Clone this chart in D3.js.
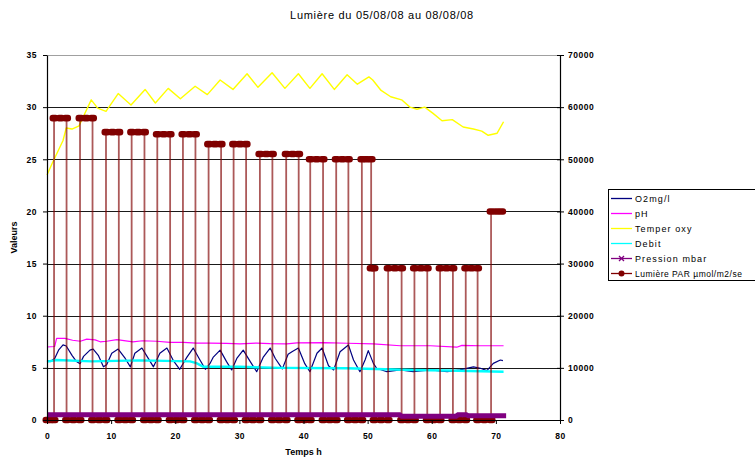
<!DOCTYPE html>
<html>
<head>
<meta charset="utf-8">
<script src="https://cdn.jsdelivr.net/npm/d3@7"></script>
<style>
  body { margin: 0; background: #fff; }
  svg { display: block; }
</style>
</head>
<body>
<div id="chart"></div>
<script>
// ---- data (time in hours) ----
const chartTitle = "Lumière du 05/08/08 au 08/08/08";
const xTicks = [0, 10, 20, 30, 40, 50, 60, 70, 80];
const leftTicks = [0, 5, 10, 15, 20, 25, 30, 35];
const rightTicks = [0, 10000, 20000, 30000, 40000, 50000, 60000, 70000];
const seriesNames = ["O2mg/l", "pH", "Temper oxy", "Debit", "Pression mbar", "Lumière PAR µmol/m2/se"];

const o2 = [
  [0, 5.7], [0.5, 5.6], [1.2, 5.9], [1.8, 6.7], [2.5, 7.2], [3.0, 7.1], [3.9, 6.2], [4.6, 5.6],
  [5.15, 5.4], [5.7, 6.1], [6.7, 6.7], [7.2, 6.8], [8.0, 6.2], [8.8, 5.1], [9.3, 5.3], [10.1, 6.4],
  [11.1, 6.8], [12.2, 5.9], [13.0, 5.1], [13.7, 6.4], [14.8, 6.9], [15.6, 6.1], [16.6, 5.1],
  [17.6, 6.4], [18.7, 6.9], [19.7, 5.7], [20.7, 4.86], [21.8, 6.0], [22.8, 6.9], [23.9, 5.7],
  [24.7, 4.86], [25.4, 5.4], [25.9, 6.0], [27.0, 6.7], [28.0, 5.6], [28.8, 4.8], [29.6, 5.9],
  [30.6, 6.7], [31.7, 5.6], [32.7, 4.63], [33.7, 6.0], [34.8, 6.9], [35.6, 5.9], [36.7, 4.9],
  [37.6, 6.3], [38.2, 6.55], [39.2, 6.9], [40.2, 5.4], [41.0, 4.63], [42.1, 6.4], [42.9, 6.9],
  [43.9, 5.2], [44.7, 4.8], [45.7, 6.55], [47.0, 7.2], [47.8, 5.75], [48.8, 4.63], [49.6, 5.75],
  [50.1, 6.65], [50.9, 5.43], [51.4, 4.96], [53.0, 4.63], [55.1, 4.8], [57.1, 4.63], [59.8, 4.8],
  [62.4, 4.63], [64.4, 4.8], [66.5, 5.1], [67.6, 4.96], [68.6, 4.73], [69.6, 5.43], [70.7, 5.75],
  [71.1, 5.7]
];

const ph = [
  [0, 7.0], [1.2, 7.05], [1.5, 7.83], [2.8, 7.83], [4.0, 7.65], [5.2, 7.55], [6.2, 7.75],
  [7.5, 7.68], [8.3, 7.5], [9.3, 7.55], [10.9, 7.7], [13.4, 7.5], [14.9, 7.6], [17.1, 7.55],
  [19.2, 7.45], [21.3, 7.45], [23.3, 7.38], [25.4, 7.38], [28.0, 7.35], [30.1, 7.3], [32.7, 7.38],
  [34.8, 7.32], [37.4, 7.3], [39.0, 7.4], [43.1, 7.42], [46.8, 7.36], [50.9, 7.3], [55.1, 7.12],
  [59.8, 7.12], [63.9, 6.98], [64.7, 7.15], [67.6, 7.12], [71.2, 7.12]
];

const temper = [
  [0, 23.5], [0.8, 24.6], [2.5, 26.8], [3.0, 28.0], [3.9, 27.9], [5.0, 28.2], [5.6, 29.0],
  [6.9, 30.7], [7.9, 29.9], [9.2, 29.6], [11.1, 31.3], [13.1, 30.2], [15.3, 31.7], [16.9, 30.4],
  [18.9, 31.8], [20.8, 30.8], [23.1, 32.0], [25.0, 31.2], [27.0, 32.6], [29.0, 31.7], [31.2, 33.2],
  [32.9, 31.9], [35.1, 33.3], [37.1, 31.8], [39.2, 33.2], [41.0, 31.8], [42.9, 33.2], [44.8, 31.7],
  [46.8, 33.1], [48.4, 32.2], [50.2, 32.9], [50.8, 32.6], [52.1, 31.6], [53.6, 31.0], [55.3, 30.7],
  [56.6, 30.0], [57.7, 29.8], [58.9, 30.0], [60.2, 29.4], [61.6, 28.7], [63.2, 28.8], [64.9, 28.1],
  [66.5, 27.9], [67.8, 27.7], [68.8, 27.3], [70.2, 27.5], [71.2, 28.6]
];

const debit = [
  [0, 5.6], [1.5, 5.75], [7.0, 5.62], [14.5, 5.72], [22.3, 5.62], [23.3, 5.45], [24.4, 5.1],
  [30.0, 5.1], [36.4, 5.0], [46.8, 4.96], [57.1, 4.8], [62.4, 4.75], [71.2, 4.63]
];

const pression = [
  [0, 990], [55.0, 990], [55.3, 740], [63.8, 740], [64.1, 990], [65.4, 990], [65.7, 820], [71.6, 820]
];

const lumiere = [
  [0, 0], [0.55, 0], [1.1, 0], [1.1, 57900], [2.1, 57900], [3.05, 57900], [3.05, 0], [4.1, 0], [5.15, 0],
  [5.15, 57900], [6.1, 57900], [7.1, 57900], [7.1, 0], [8.15, 0], [9.2, 0],
  [9.2, 55200], [10.2, 55200], [11.2, 55200], [11.2, 0], [12.2, 0], [13.2, 0],
  [13.2, 55200], [14.2, 55200], [15.2, 55200], [15.2, 0], [16.2, 0], [17.2, 0],
  [17.2, 54800], [18.2, 54800], [19.2, 54800], [19.2, 0], [20.2, 0], [21.2, 0],
  [21.2, 54800], [22.2, 54800], [23.15, 54800], [23.15, 0], [24.2, 0], [25.2, 0],
  [25.2, 52900], [26.2, 52900], [27.15, 52900], [27.15, 0], [28.1, 0], [29.1, 0],
  [29.1, 52900], [30.1, 52900], [31.05, 52900], [31.05, 0], [32.1, 0], [33.2, 0],
  [33.2, 51000], [34.2, 51000], [35.15, 51000], [35.15, 0], [36.2, 0], [37.3, 0],
  [37.3, 51000], [38.3, 51000], [39.25, 51000], [39.25, 0], [40.15, 0], [41.05, 0],
  [41.05, 50000], [42.05, 50000], [43.05, 50000], [43.05, 0], [44.1, 0], [45.1, 0],
  [45.1, 50000], [46.05, 50000], [47.0, 50000], [47.0, 0], [48.05, 0], [49.1, 0],
  [49.1, 50000], [49.8, 50000], [50.55, 50000], [50.55, 29100], [51.0, 29100], [51.0, 0], [52.1, 0], [53.2, 0],
  [53.2, 29100], [54.25, 29100], [55.3, 29100], [55.3, 0], [56.3, 0], [57.3, 0],
  [57.3, 29100], [58.3, 29100], [59.3, 29100], [59.3, 0], [60.3, 0], [61.3, 0],
  [61.3, 29100], [62.3, 29100], [63.3, 29100], [63.3, 0], [64.3, 0], [65.3, 0],
  [65.3, 29100], [66.2, 29100], [67.15, 29100], [67.15, 0], [68.2, 0], [69.25, 0],
  [69.25, 40000], [70.1, 40000], [70.9, 40000]
];

// ---- layout ----
const width = 755, height = 458;
const plotLeft = 47, plotRight = 560, plotTop = 55, plotBottom = 420;
const fontFamily = "'Liberation Sans', Arial, sans-serif";

const x = d3.scaleLinear().domain([0, 80]).range([plotLeft, plotRight]);
const yLeft = d3.scaleLinear().domain([0, 35]).range([plotBottom, plotTop]);
const yRight = d3.scaleLinear().domain([0, 70000]).range([plotBottom, plotTop]);

const svg = d3.select("#chart").append("svg")
  .attr("width", width)
  .attr("height", height)
  .style("font-family", fontFamily);

svg.append("rect").attr("width", width).attr("height", height).attr("fill", "#fff");

// gridlines (top one is the grey plot border)
svg.append("g").selectAll("line")
  .data(leftTicks.filter(d => d > 0))
  .join("line")
  .attr("x1", plotLeft).attr("x2", plotRight)
  .attr("y1", d => Math.round(yLeft(d)) + 0.5).attr("y2", d => Math.round(yLeft(d)) + 0.5)
  .attr("stroke", d => d === 35 ? "#a0a0a0" : "#1a1a1a")
  .attr("stroke-width", 1);

// ---- series on the left axis ----
const leftLine = d3.line().x(d => x(d[0])).y(d => yLeft(d[1]));
const rightLine = d3.line().x(d => x(d[0])).y(d => yRight(d[1]));

const leftSeries = [
  { data: o2, color: "#000080", w: 1.2 },
  { data: ph, color: "#ff00ff", w: 1.2 },
  { data: temper, color: "#ffff00", w: 1.4 },
  { data: debit, color: "#00ffff", w: 2.4 }
];
svg.append("g").selectAll("path")
  .data(leftSeries)
  .join("path")
  .attr("d", d => leftLine(d.data))
  .attr("fill", "none")
  .attr("stroke", d => d.color)
  .attr("stroke-width", d => d.w)
  .attr("stroke-linejoin", "round");

// ---- light series on the right axis ----
svg.append("path")
  .attr("d", rightLine(lumiere))
  .attr("fill", "none")
  .attr("stroke", "#800000")
  .attr("stroke-opacity", 0.65)
  .attr("stroke-width", 1.8);

svg.append("g").selectAll("rect")
  .data(lumiere)
  .join("rect")
  .attr("x", d => x(d[0]) - 4.5)
  .attr("y", d => yRight(d[1]) - 3.3)
  .attr("width", 9)
  .attr("height", 6.6)
  .attr("rx", 3)
  .attr("fill", "#800000");

// pressure drawn as a thick band near zero
svg.append("path")
  .attr("d", rightLine(pression))
  .attr("fill", "none")
  .attr("stroke", "#800080")
  .attr("stroke-width", 5);

// ---- axes ----
const axisLeft = svg.append("g")
  .attr("transform", `translate(${plotLeft},0)`)
  .call(d3.axisLeft(yLeft).tickValues(leftTicks).tickSize(4).tickSizeOuter(0).tickPadding(6));

const axisRight = svg.append("g")
  .attr("transform", `translate(${plotRight},0)`)
  .call(d3.axisRight(yRight).tickValues(rightTicks).tickFormat(d3.format("d"))
    .tickSize(4).tickSizeOuter(0).tickPadding(4));

const axisBottom = svg.append("g")
  .attr("transform", `translate(0,${plotBottom})`)
  .call(d3.axisBottom(x).tickValues(xTicks).tickSize(4).tickSizeOuter(0).tickPadding(9));

[axisLeft, axisRight, axisBottom].forEach(g => {
  g.select(".domain").attr("stroke", "#000").attr("stroke-width", 1.2);
  g.selectAll(".tick line").attr("stroke", "#000");
  g.selectAll("text")
    .attr("fill", "#000")
    .style("font-family", fontFamily)
    .style("font-size", "8.5px")
    .style("font-weight", "bold")
    .style("letter-spacing", "0.5px");
});
axisRight.selectAll(".tick line").attr("x1", -3);

// ---- titles ----
svg.append("text")
  .attr("x", 382).attr("y", 19)
  .attr("text-anchor", "middle")
  .style("font-size", "11px")
  .style("letter-spacing", "0.7px")
  .text(chartTitle);

svg.append("text")
  .attr("transform", `translate(17,${(plotTop + plotBottom) / 2}) rotate(-90)`)
  .attr("text-anchor", "middle")
  .style("font-size", "9px")
  .style("font-weight", "bold")
  .text("Valeurs");

svg.append("text")
  .attr("x", (plotLeft + plotRight) / 2).attr("y", 455)
  .attr("text-anchor", "middle")
  .style("font-size", "9px")
  .style("font-weight", "bold")
  .text("Temps h");

// ---- legend ----
const legendColors = ["#000080", "#ff00ff", "#ffff00", "#00ffff", "#800080", "#800000"];
const legend = svg.append("g");
legend.append("rect")
  .attr("x", 608.5).attr("y", 189.5)
  .attr("width", 160).attr("height", 91)
  .attr("fill", "#fff").attr("stroke", "#000");

const rows = legend.selectAll("g.row")
  .data(seriesNames)
  .join("g")
  .attr("class", "row")
  .attr("transform", (d, i) => `translate(0,${198.5 + i * 15})`);

rows.append("line")
  .attr("x1", 611).attr("x2", 632)
  .attr("stroke", (d, i) => legendColors[i])
  .attr("stroke-width", 1.3);

rows.filter((d, i) => i === 4).append("path")
  .attr("d", "M619,-2.5L624,2.5M619,2.5L624,-2.5")
  .attr("stroke", "#800080").attr("stroke-width", 1.3);

rows.filter((d, i) => i === 5).append("circle")
  .attr("cx", 621.5).attr("r", 3)
  .attr("fill", "#800000");

rows.append("text")
  .attr("x", 635).attr("y", 3.2)
  .style("font-size", d => d.length > 15 ? "8.5px" : "9px")
  .style("letter-spacing", d => d.length > 15 ? "0.5px" : "1.1px")
  .text(d => d);
</script>
</body>
</html>
